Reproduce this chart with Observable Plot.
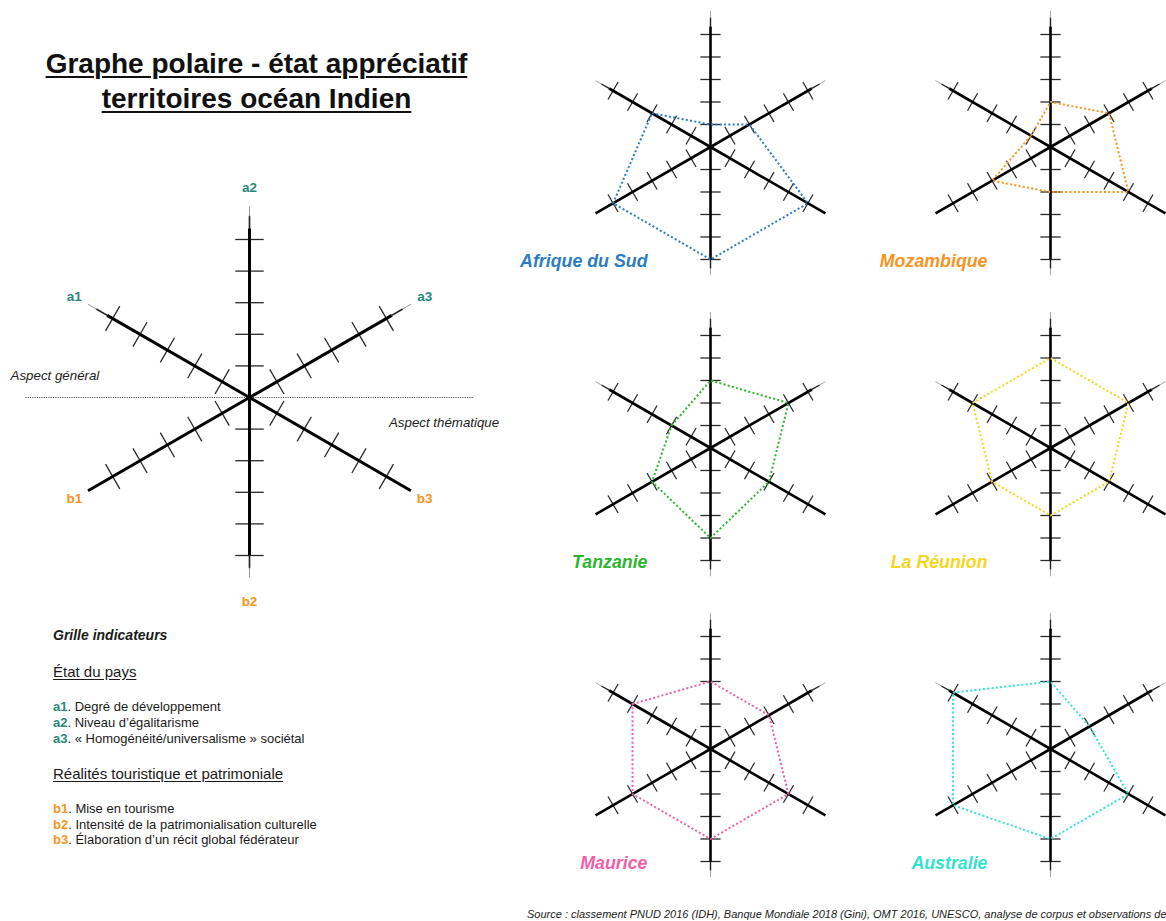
<!DOCTYPE html>
<html lang="fr">
<head>
<meta charset="utf-8">
<script src="https://cdn.jsdelivr.net/npm/d3@7"></script>
<script src="https://cdn.jsdelivr.net/npm/@observablehq/plot@0.6"></script>
<style>
html, body { margin:0; padding:0; background:#fff; overflow:hidden; }
#page { position:relative; width:1166px; height:921px; overflow:hidden;
  font-family:"Liberation Sans", Arial, Helvetica, sans-serif; color:#1a1a1a; }
.abs { position:absolute; white-space:nowrap; }
#title { left:0; top:46px; width:513px; text-align:center; font-weight:bold; font-size:28px; line-height:35px; color:#111; }
#title span { text-decoration:underline; text-decoration-thickness:2px; text-underline-offset:3px; }
#legendPlot { left:0; top:160px; width:520px; height:470px; }
#smallPlot { left:540px; top:-4px; width:680px; height:903px; }
#legendPlot svg, #smallPlot svg { max-width:none !important; }
.ln { left:53px; font-size:13px; line-height:16px; }
.head1 { font-size:14px; font-weight:bold; font-style:italic; }
.head2 { font-size:15px; text-decoration:underline; text-underline-offset:2px; }
.ka { color:#27897d; font-weight:bold; }
.kb { color:#f7941d; font-weight:bold; }
#source { left:527px; top:908px; font-size:11px; line-height:12px; font-style:italic; color:#222; }
</style>
</head>
<body>
<div id="page">
  <div id="title" class="abs"></div>
  <div id="legendPlot" class="abs"></div>
  <div id="smallPlot" class="abs"></div>
  <div id="legendText"></div>
  <div id="source" class="abs"></div>
</div>
<script>
// ---------------- DATA ----------------
const titleLines = ["Graphe polaire - état appréciatif", "territoires océan Indien"];
const axisKeys = ["a1", "a2", "a3", "b3", "b2", "b1"]; // clockwise from upper-left
const tickValues = [1, 2, 3, 4, 5];

const countries = ["Afrique du Sud", "Mozambique", "Tanzanie", "La Réunion", "Maurice", "Australie"];
const scoreA1 = [3, 1, 2, 4, 4, 5];
const scoreA2 = [1, 2, 3, 4, 3, 3];
const scoreA3 = [2, 3, 4, 4, 3, 2];
const scoreB3 = [5, 4, 3, 3, 4, 4];
const scoreB2 = [5, 2, 4, 3, 4, 4];
const scoreB1 = [5, 3, 3, 3, 4, 5];

const legendTitle = "Grille indicateurs";
const groupTitles = ["État du pays", "Réalités touristique et patrimoniale"];
const groupAKeys = ["a1", "a2", "a3"];
const groupADesc = ["Degré de développement", "Niveau d’égalitarisme", "« Homogénéité/universalisme » sociétal"];
const groupBKeys = ["b1", "b2", "b3"];
const groupBDesc = ["Mise en tourisme", "Intensité de la patrimonialisation culturelle", "Élaboration d’un récit global fédérateur"];
const sideNotes = ["Aspect général", "Aspect thématique"];
const sourceText = "Source : classement PNUD 2016 (IDH), Banque Mondiale 2018 (Gini), OMT 2016, UNESCO, analyse de corpus et observations de";

// ---------------- STYLE ----------------
const countryColors = ["#2c7cc0", "#f7931e", "#2db52d", "#f5d61c", "#f15fa7", "#33e2cf"];
const colorA = "#27897d", colorB = "#f7941d";
const FONT = "Liberation Sans, Arial, Helvetica, sans-serif";

// ---------------- GEOMETRY HELPERS ----------------
const scores = {a1: scoreA1, a2: scoreA2, a3: scoreA3, b3: scoreB3, b2: scoreB2, b1: scoreB1};
const angleOf = k => (150 - 60 * k) * Math.PI / 180;
const px = (r, k) => r * Math.cos(angleOf(k));
const py = (r, k) => r * Math.sin(angleOf(k));
const axisLen = k => k === 1 ? 6.05 : k === 4 ? 5.7 : 5.9;
const tapered = k => k === 0 || k === 1 || k === 2 || k === 4;
const TICK_HALF = 0.45;

function axisMarks(w) {
  const main = [], mid = [], tip = [], ticks = [];
  axisKeys.forEach((key, k) => {
    const L = axisLen(k);
    if (tapered(k)) {
      main.push({k, r1: 0, r2: L - 0.7});
      mid.push({k, r1: L - 0.72, r2: L - 0.3});
      tip.push({k, r1: L - 0.32, r2: L});
    } else main.push({k, r1: 0, r2: L});
    tickValues.forEach(v => ticks.push({k, v}));
  });
  const seg = (data, stroke, sw) => Plot.link(data, {
    x1: d => px(d.r1, d.k), y1: d => py(d.r1, d.k),
    x2: d => px(d.r2, d.k), y2: d => py(d.r2, d.k),
    stroke, strokeWidth: sw, strokeLinecap: "butt"
  });
  const perp = k => angleOf(k) + Math.PI / 2;
  return [
    Plot.link(ticks, {
      x1: d => px(d.v, d.k) + TICK_HALF * Math.cos(perp(d.k)),
      y1: d => py(d.v, d.k) + TICK_HALF * Math.sin(perp(d.k)),
      x2: d => px(d.v, d.k) - TICK_HALF * Math.cos(perp(d.k)),
      y2: d => py(d.v, d.k) - TICK_HALF * Math.sin(perp(d.k)),
      stroke: "#2a2a2a", strokeWidth: 1.3
    }),
    seg(main, "#000", w),
    seg(mid, "#222", w * 0.55),
    seg(tip, "#777", w * 0.25)
  ];
}

// ---------------- TITLE / TEXT ----------------
document.getElementById("title").innerHTML = titleLines.map(t => `<span>${t}</span>`).join("<br>");
document.getElementById("source").textContent = sourceText;

const lt = document.getElementById("legendText");
function addLine(top, html, cls) {
  const d = document.createElement("div");
  d.className = "abs ln " + (cls || "");
  d.style.top = top + "px";
  d.innerHTML = html;
  lt.appendChild(d);
}
addLine(627, legendTitle, "head1");
addLine(663.5, groupTitles[0], "head2");
groupAKeys.forEach((k, i) => addLine(698.5 + 16 * i, `<span class="ka">${k}</span>. ${groupADesc[i]}`));
addLine(765.5, groupTitles[1], "head2");
groupBKeys.forEach((k, i) => addLine(801 + 15.5 * i, `<span class="kb">${k}</span>. ${groupBDesc[i]}`));

// ---------------- LEGEND RADAR ----------------
const U_B = 31.6;
const GUIDE = 7.09;
const labelR = k => k === 1 ? 6.65 : k === 4 ? 6.45 : 6.4;
const legendPlot = Plot.plot({
  width: 520, height: 470, margin: 0,
  style: {fontFamily: FONT, background: "transparent", overflow: "visible"},
  x: {domain: [-249 / U_B, 271 / U_B], axis: null},
  y: {domain: [-233 / U_B, 237 / U_B], axis: null},
  marks: [
    Plot.link([GUIDE], {x1: d => -d, x2: d => d, y1: () => 0, y2: () => 0,
      stroke: "#333", strokeWidth: 1, strokeDasharray: "1,1.3"}),
    ...axisMarks(3),
    Plot.text(axisKeys, {
      x: (d, i) => px(labelR(i), i), y: (d, i) => py(labelR(i), i), text: d => d,
      fill: d => d[0] === "a" ? colorA : colorB,
      fontWeight: "bold", fontSize: 13.5, textAnchor: "middle"
    }),
    Plot.text([sideNotes[0]], {x: () => -7.56, y: () => 0.7, text: d => d,
      textAnchor: "start", fontStyle: "italic", fontSize: 13.3, fill: "#222"}),
    Plot.text([sideNotes[1]], {x: () => 7.9, y: () => -0.79, text: d => d,
      textAnchor: "end", fontStyle: "italic", fontSize: 13.3, fill: "#222"})
  ]
});
document.getElementById("legendPlot").appendChild(legendPlot);

// ---------------- SMALL MULTIPLES ----------------
const U_S = 22.5;
const polyData = [];
countries.forEach((c, i) => {
  axisKeys.forEach((key, k) => {
    polyData.push({country: c, col: i % 2, row: Math.floor(i / 2), k, v: scores[key][i], color: countryColors[i]});
  });
});
const labelData = countries.map((c, i) => ({country: c, col: i % 2, row: Math.floor(i / 2), color: countryColors[i]}));

const smallPlot = Plot.plot({
  width: 680, height: 903, margin: 0,
  style: {fontFamily: FONT, background: "transparent", overflow: "visible"},
  x: {domain: [-170 / U_S, 170 / U_S], axis: null},
  y: {domain: [-150.5 / U_S, 150.5 / U_S], axis: null},
  fx: {domain: [0, 1], padding: 0, paddingInner: 0, paddingOuter: 0, round: false, axis: null},
  fy: {domain: [0, 1, 2], padding: 0, paddingInner: 0, paddingOuter: 0, round: false, axis: null},
  color: {type: "identity"},
  marks: [
    ...axisMarks(2.6),
    Plot.line(polyData, {
      x: d => px(d.v, d.k), y: d => py(d.v, d.k), z: "country",
      fx: "col", fy: "row", stroke: "color", curve: "linear-closed",
      strokeWidth: 2, strokeDasharray: "2,2.3", strokeLinecap: "butt"
    }),
    Plot.text(labelData, {
      x: () => -2.8, y: () => -5.1, text: "country", fx: "col", fy: "row",
      fill: "color", textAnchor: "end", fontSize: 17.8, fontWeight: "bold", fontStyle: "italic"
    })
  ]
});
document.getElementById("smallPlot").appendChild(smallPlot);
</script>
</body>
</html>
